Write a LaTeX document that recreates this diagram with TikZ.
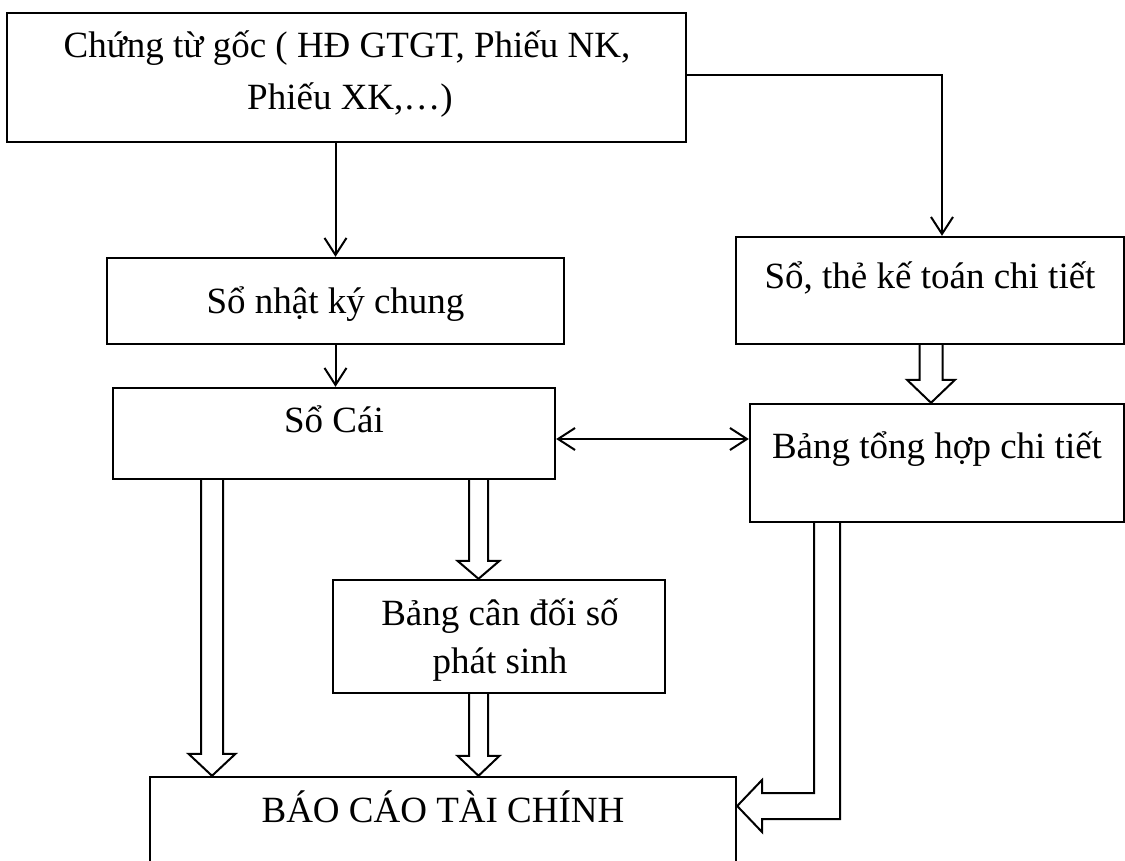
\documentclass[tikz,border=0pt]{standalone}
\usepackage{fontspec}
\setmainfont{Liberation Serif}
\usetikzlibrary{arrows.meta,calc}

% Hollow block arrow pointing down: #1 axis x, #2 start anchor, #3 tip anchor,
% #4 half shaft width, #5 half head width, #6 head length (all in pt)
\newcommand\blockdown[6]{%
  \draw[hollow] let \p1=(#2), \p2=(#3) in
    (#1pt-#4pt,\y1) -- (#1pt-#4pt,\y2+#6pt) -- (#1pt-#5pt,\y2+#6pt) -- (#1pt,\y2)
    -- (#1pt+#5pt,\y2+#6pt) -- (#1pt+#4pt,\y2+#6pt) -- (#1pt+#4pt,\y1);}

\begin{document}
\begin{tikzpicture}[x=1pt,y=-1pt,
  box/.style={draw, line width=2.4pt, inner sep=0pt},
  txt/.style={inner sep=0pt, anchor=base, font=\fontsize{37}{44}\selectfont},
  link/.style={line width=2pt, -{Straight Barb[length=17pt,width=22pt,line width=2pt]}},
  twoway/.style={line width=2pt, {Straight Barb[length=17pt,width=22pt,line width=2pt]}-{Straight Barb[length=17pt,width=22pt,line width=2pt]}},
  hollow/.style={line width=2pt, line join=miter}]

\useasboundingbox (0,0) rectangle (1125,861);
\clip (0,0) rectangle (1125,861);

% boxes
\node[box, minimum width=679pt, minimum height=129pt] (top) at (346.5,77.5) {};
\node[box, minimum width=457pt, minimum height=86pt]  (nk)  at (335.5,301) {};
\node[box, minimum width=388pt, minimum height=107pt] (st)  at (930,290.5) {};
\node[box, minimum width=442pt, minimum height=91pt]  (sc)  at (334,433.5) {};
\node[box, minimum width=374pt, minimum height=118pt] (bt)  at (937,463) {};
\node[box, minimum width=332pt, minimum height=113pt] (bc)  at (499,636.5) {};
\node[box, minimum width=586pt, minimum height=128pt] (fs)  at (443,841) {};

% texts
\node[txt] (topA) at (347,58)  {Chứng từ gốc ( HĐ GTGT, Phiếu NK,};
\node[txt] (topB) at (350,110) {Phiếu XK,…)};
\node[txt] (nkT)  at (335.5,313) {Sổ nhật ký chung};
\node[txt] (stT)  at (930,288) {Sổ, thẻ kế toán chi tiết};
\node[txt] (scT)  at (334,432) {Sổ Cái};
\node[txt] (btT)  at (937,458) {Bảng tổng hợp chi tiết};
\node[txt] (bcA)  at (500,625) {Bảng cân đối số};
\node[txt] (bcB)  at (500,673) {phát sinh};
\node[txt] (fsT)  at (443,822) {BÁO CÁO TÀI CHÍNH};

% plain connectors
\draw[link] (nk.north |- top.south) -- (nk.north);
\draw[link] (nk.south) -- (nk.south |- sc.north);
\coordinate (tr) at ([yshift=2.5pt]top.east);
\coordinate (stIn) at ([xshift=12pt]st.north);
\draw[link] (tr) -| (stIn);
\coordinate (scR) at ([yshift=-5.5pt]sc.east);
\draw[twoway] (scR) -- (scR -| bt.west);

% hollow block arrows
\blockdown{931}{st.south}{bt.north}{11.5}{24}{23}
\blockdown{212}{sc.south}{fs.north}{11}{23.5}{22}
\blockdown{478.5}{sc.south}{bc.north}{9.5}{21}{18}
\blockdown{478.5}{bc.south}{fs.north}{9.5}{21}{20}

% bent block arrow into the report box
\draw[hollow] let \p1=(bt.south), \p2=(fs.east) in
  (814pt,\y1) -- (814pt,-793pt) -- (762pt,-793pt) -- (762pt,-780pt) -- (\x2,-806pt)
  -- (762pt,-832pt) -- (762pt,-819pt) -- (840pt,-819pt) -- (840pt,\y1);
\end{tikzpicture}
\end{document}
